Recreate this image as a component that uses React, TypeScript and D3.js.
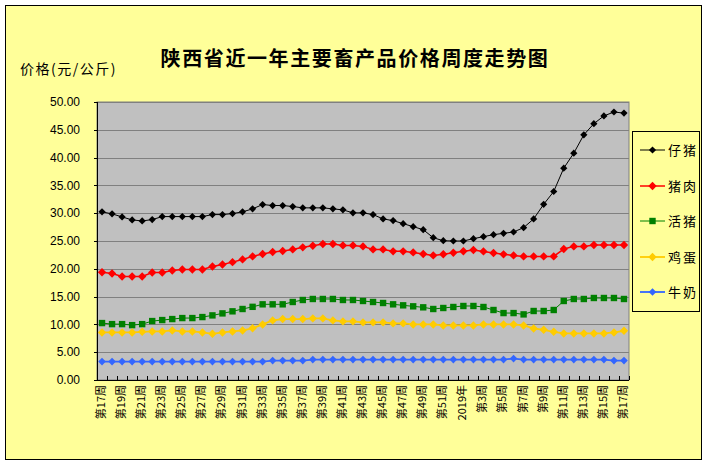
import * as d3 from 'd3';

// weekly price data (元/公斤)
const weeks = [
  '第17周', '第18周', '第19周', '第20周', '第21周', '第22周', '第23周', '第24周', '第25周', '第26周',
  '第27周', '第28周', '第29周', '第30周', '第31周', '第32周', '第33周', '第34周', '第35周', '第36周',
  '第37周', '第38周', '第39周', '第40周', '第41周', '第42周', '第43周', '第44周', '第45周', '第46周',
  '第47周', '第48周', '第49周', '第50周', '第51周', '第52周', '2019年', '第2周', '第3周', '第4周',
  '第5周', '第6周', '第7周', '第8周', '第9周', '第10周', '第11周', '第12周', '第13周', '第14周',
  '第15周', '第16周', '第17周',
];

const piglet = [
  30.24, 29.88, 29.33, 28.79, 28.61, 28.85, 29.39, 29.39, 29.39, 29.39,
  29.39, 29.75, 29.75, 29.93, 30.24, 30.78, 31.56, 31.38, 31.38, 31.2,
  30.96, 30.96, 30.96, 30.78, 30.6, 30.06, 30.06, 29.75, 28.97, 28.67,
  28.12, 27.58, 27.04, 25.59, 25.05, 25.0, 25.0, 25.42, 25.78, 26.14,
  26.38, 26.62, 27.4, 28.97, 31.6, 33.9, 38.1, 40.8, 44.1, 46.1,
  47.5, 48.2, 48.0,
];

const pork = [
  19.39, 19.16, 18.62, 18.62, 18.62, 19.33, 19.33, 19.7, 19.88, 19.88,
  19.88, 20.42, 20.78, 21.2, 21.69, 22.23, 22.65, 23.01, 23.19, 23.49,
  23.86, 24.15, 24.45, 24.45, 24.21, 24.21, 24.03, 23.49, 23.49, 23.14,
  23.14, 22.95, 22.65, 22.41, 22.62, 22.9, 23.16, 23.37, 23.13, 22.83,
  22.6, 22.41, 22.23, 22.23, 22.23, 22.23, 23.55, 24.03, 24.03, 24.27,
  24.27, 24.27, 24.27,
];

const hog = [
  10.24, 10.05, 10.05, 9.87, 10.05, 10.6, 10.78, 10.96, 11.14, 11.14,
  11.32, 11.62, 11.98, 12.35, 12.77, 13.16, 13.61, 13.61, 13.61, 14.03,
  14.39, 14.57, 14.57, 14.57, 14.39, 14.39, 14.21, 14.03, 13.85, 13.61,
  13.43, 13.25, 13.07, 12.77, 12.95, 13.13, 13.31, 13.31, 13.13, 12.59,
  12.04, 12.04, 11.8, 12.41, 12.41, 12.59, 14.21, 14.57, 14.57, 14.75,
  14.75, 14.75, 14.57,
];

const egg = [
  8.55, 8.55, 8.55, 8.55, 8.67, 8.73, 8.73, 8.91, 8.73, 8.73,
  8.55, 8.31, 8.55, 8.73, 8.91, 9.3, 9.99, 10.72, 10.96, 10.96,
  10.96, 11.08, 11.08, 10.72, 10.54, 10.54, 10.36, 10.36, 10.36, 10.18,
  10.18, 9.99, 9.99, 9.99, 9.81, 9.81, 9.81, 9.81, 9.99, 9.99,
  9.99, 9.99, 9.81, 9.27, 9.03, 8.67, 8.37, 8.37, 8.37, 8.37,
  8.37, 8.55, 8.85,
];

const milk = [
  3.31, 3.31, 3.31, 3.31, 3.31, 3.31, 3.31, 3.31, 3.31, 3.31,
  3.31, 3.31, 3.31, 3.31, 3.31, 3.31, 3.31, 3.49, 3.49, 3.49,
  3.49, 3.67, 3.67, 3.67, 3.67, 3.67, 3.67, 3.67, 3.67, 3.67,
  3.67, 3.67, 3.67, 3.67, 3.67, 3.67, 3.67, 3.67, 3.67, 3.67,
  3.67, 3.85, 3.67, 3.67, 3.67, 3.67, 3.67, 3.67, 3.67, 3.67,
  3.67, 3.49, 3.49,
];

const yTicks = [0, 5, 10, 15, 20, 25, 30, 35, 40, 45, 50];

const series = [
  { name: '仔猪', values: piglet, color: '#000000', width: 1, marker: 'diamond', size: 3.6 },
  { name: '猪肉', values: pork, color: '#FF0000', width: 1.5, marker: 'diamond', size: 4.2 },
  { name: '活猪', values: hog, color: '#008000', width: 1, marker: 'square', size: 3.2 },
  { name: '鸡蛋', values: egg, color: '#FFCC00', width: 1.8, marker: 'diamond', size: 4.2 },
  { name: '牛奶', values: milk, color: '#3366FF', width: 1.8, marker: 'diamond', size: 3.8 },
];

const W = 709;
const H = 466;
const plot = { left: 97, right: 629, top: 102, bottom: 380 };
const cjk = '"Noto Sans CJK SC", "Noto Sans", sans-serif';

function Marker({ x, y, kind, size, color }: { x: number; y: number; kind: string; size: number; color: string }) {
  if (kind === 'square') {
    return <rect x={x - size} y={y - size} width={size * 2} height={size * 2} fill={color} />;
  }
  const p = `M${x},${y - size}L${x + size},${y}L${x},${y + size}L${x - size},${y}Z`;
  return <path d={p} fill={color} />;
}

export default function App() {
  // week labels repeat (第17周 twice), so the scale runs on indices
  const idx = d3.range(weeks.length);
  const x = d3.scalePoint<number>().domain(idx).range([plot.left, plot.right]).padding(0.5);
  const y = d3.scaleLinear().domain([0, 50]).range([plot.bottom, plot.top]);
  const step = x.step();

  const line = d3.line<number>()
    .x((_, i) => x(i) as number)
    .y(d => y(d));

  const legendX = 640;
  const legendY = [150, 186, 221, 257, 292];

  return (
    <div style={{ position: 'absolute', left: 0, top: 0 }}>
      <svg width={W} height={H} style={{ display: 'block', background: '#ffffff' }}>
        <rect x={5.5} y={5.5} width={696} height={454} fill="#FFFF99" stroke="#000" strokeWidth={1} />

        <text x={355} y={66} textAnchor="middle" fontFamily={cjk} fontSize={20} fontWeight="bold" letterSpacing={1.6}>
          陕西省近一年主要畜产品价格周度走势图
        </text>
        <text x={20} y={74} fontFamily={cjk} fontSize={14} letterSpacing={1.5}>价格(元/公斤)</text>

        {/* plot area */}
        <rect x={plot.left} y={plot.top} width={plot.right - plot.left} height={plot.bottom - plot.top} fill="#C0C0C0" stroke="#808080" strokeWidth={1} />
        {yTicks.filter(t => t > 0).map(t => (
          <line key={t} x1={plot.left} x2={plot.right} y1={Math.round(y(t)) + 0.5} y2={Math.round(y(t)) + 0.5} stroke="#808080" strokeWidth={1} />
        ))}
        {yTicks.map(t => (
          <g key={`yl${t}`}>
            <line x1={plot.left - 3} x2={plot.left} y1={Math.round(y(t)) + 0.5} y2={Math.round(y(t)) + 0.5} stroke="#000" />
            <text x={80} y={y(t)} dy="0.35em" textAnchor="end" fontFamily='"Liberation Sans", Arial, sans-serif' fontSize={12}>
              {t.toFixed(2)}
            </text>
          </g>
        ))}
        <line x1={plot.left + 0.5} x2={plot.left + 0.5} y1={plot.top} y2={plot.bottom} stroke="#000" />
        <line x1={plot.left} x2={plot.right} y1={plot.bottom + 0.5} y2={plot.bottom + 0.5} stroke="#000" />
        {d3.range(weeks.length + 1).map(i => {
          const tx = Math.round(plot.left + i * step) + 0.5;
          return <line key={`xt${i}`} x1={tx} x2={tx} y1={plot.bottom - 4} y2={plot.bottom} stroke="#000" />;
        })}
        {weeks.map((w, i) => (i % 2 === 0 ? (
          <text key={`xl${i}`} transform={`translate(${(x(i) as number) - 1},385) rotate(-90)`} textAnchor="end" dy="0.36em" fontFamily={cjk} fontSize={11}>
            {w}
          </text>
        ) : null))}

        {/* series */}
        {series.map(s => (
          <g key={s.name}>
            <path d={line(s.values) ?? ''} fill="none" stroke={s.color} strokeWidth={s.width} />
            {s.values.map((v, i) => (
              <Marker key={i} x={x(i) as number} y={y(v)} kind={s.marker} size={s.size} color={s.color} />
            ))}
          </g>
        ))}

        {/* legend */}
        <rect x={632.5} y={131.5} width={67} height={180} fill="#FFFF99" stroke="#000" strokeWidth={1} />
        {series.map((s, i) => (
          <g key={`lg${s.name}`}>
            <line x1={legendX} x2={legendX + 25} y1={legendY[i]} y2={legendY[i]} stroke={s.color} strokeWidth={s.width} />
            <Marker x={legendX + 12.5} y={legendY[i]} kind={s.marker} size={s.size} color={s.color} />
            <text x={668} y={legendY[i]} dy="0.36em" fontFamily={cjk} fontSize={13} letterSpacing={2}>{s.name}</text>
          </g>
        ))}
      </svg>
    </div>
  );
}
